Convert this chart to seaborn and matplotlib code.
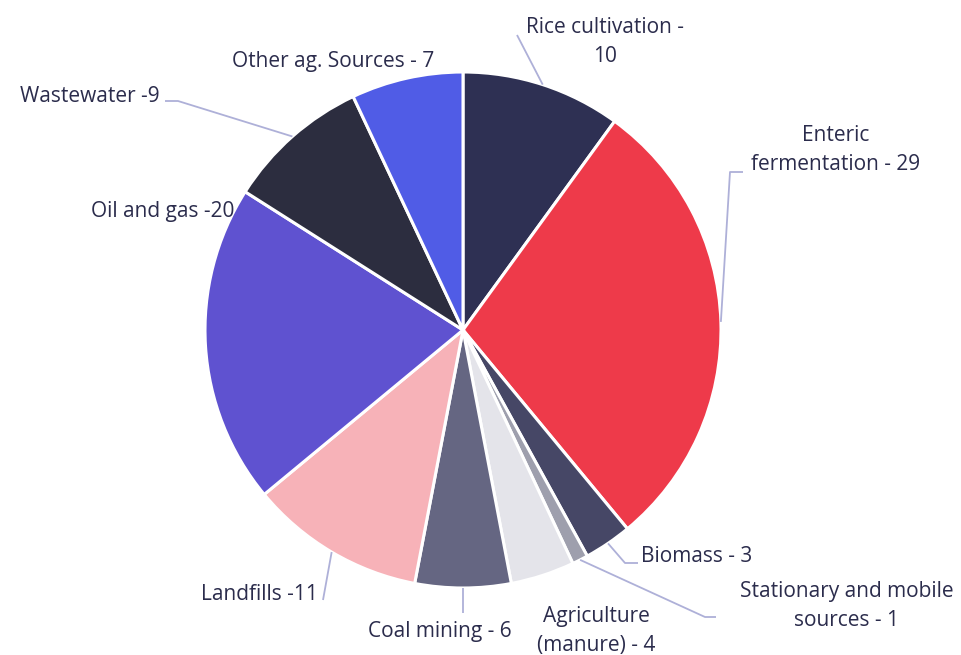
import matplotlib
matplotlib.use("Agg")
import matplotlib.pyplot as plt
import numpy as np
import seaborn as sns

# ---- data ----
categories = ["Rice cultivation", "Enteric fermentation", "Biomass",
              "Stationary and mobile sources", "Agriculture (manure)",
              "Coal mining", "Landfills", "Oil and gas", "Wastewater",
              "Other ag. Sources"]
values = [10, 29, 3, 1, 4, 6, 11, 20, 9, 7]
label_texts = ["Rice cultivation -\n10", "Enteric\nfermentation - 29", "Biomass - 3",
               "Stationary and mobile\nsources - 1", "Agriculture\n(manure) - 4",
               "Coal mining - 6", "Landfills -11", "Oil and gas -20",
               "Wastewater -9", "Other ag. Sources - 7"]
colors = ["#2e3053", "#ee3a4a", "#464766", "#9e9fad", "#e4e4ea",
          "#656682", "#f7b2b8", "#5f52d0", "#2c2d3f", "#505ce6"]

# ---- layout (pixels, y from top) ----
W, H = 962, 655
CX, CY, R = 463, 330, 258
label_pos = [(605, 42, "center"), (836, 150, "center"), (641, 556, "left"),
             (847, 606, "center"), (596, 631, "center"), (440, 632, "center"),
             (318, 594, "right"), (234, 212, "right"), (160, 96, "right"),
             (333, 61, "center")]
# leader line bend points after the wedge edge point (None = no line)
leader_pts = [[(517, 35)], [(730, 172), (743, 172)], [(625, 563), (638, 563)],
              [(705, 617), (716, 617)], None, [(463, 613)], [(323, 600)], None,
              [(178, 101), (165, 101)], None]

sns.set_theme(style="white")
plt.rcParams['font.family'] = ['Open Sans', 'DejaVu Sans']

fig = plt.figure(figsize=(W / 100, H / 100), dpi=100)
ax = fig.add_axes([0, 0, 1, 1])
pal = sns.color_palette(colors)

ax.pie(values, colors=pal, startangle=90, counterclock=False,
       center=(CX, H - CY), radius=R,
       wedgeprops=dict(edgecolor="white", linewidth=2.2))

txt_color = "#2b2c4c"
line_color = "#aeb0d8"
total = sum(values)
cum = 0
for i, v in enumerate(values):
    mid = (cum + v / 2) / total
    cum += v
    ang = np.deg2rad(90 - 360 * mid)
    ex, ey = CX + R * np.cos(ang), H - CY + R * np.sin(ang)
    if leader_pts[i] is not None:
        xs = [ex] + [p[0] for p in leader_pts[i]]
        ys = [ey] + [H - p[1] for p in leader_pts[i]]
        ax.plot(xs, ys, color=line_color, lw=1.3, solid_capstyle="butt")
    lx, ly, ha = label_pos[i]
    ax.text(lx, H - ly, label_texts[i], ha=ha, va="center", fontsize=15,
            color=txt_color, linespacing=1.48, multialignment="center")

ax.set_xlim(0, W)
ax.set_ylim(0, H)
ax.set_aspect("equal")
ax.axis("off")
fig.savefig("out.png", dpi=100)
